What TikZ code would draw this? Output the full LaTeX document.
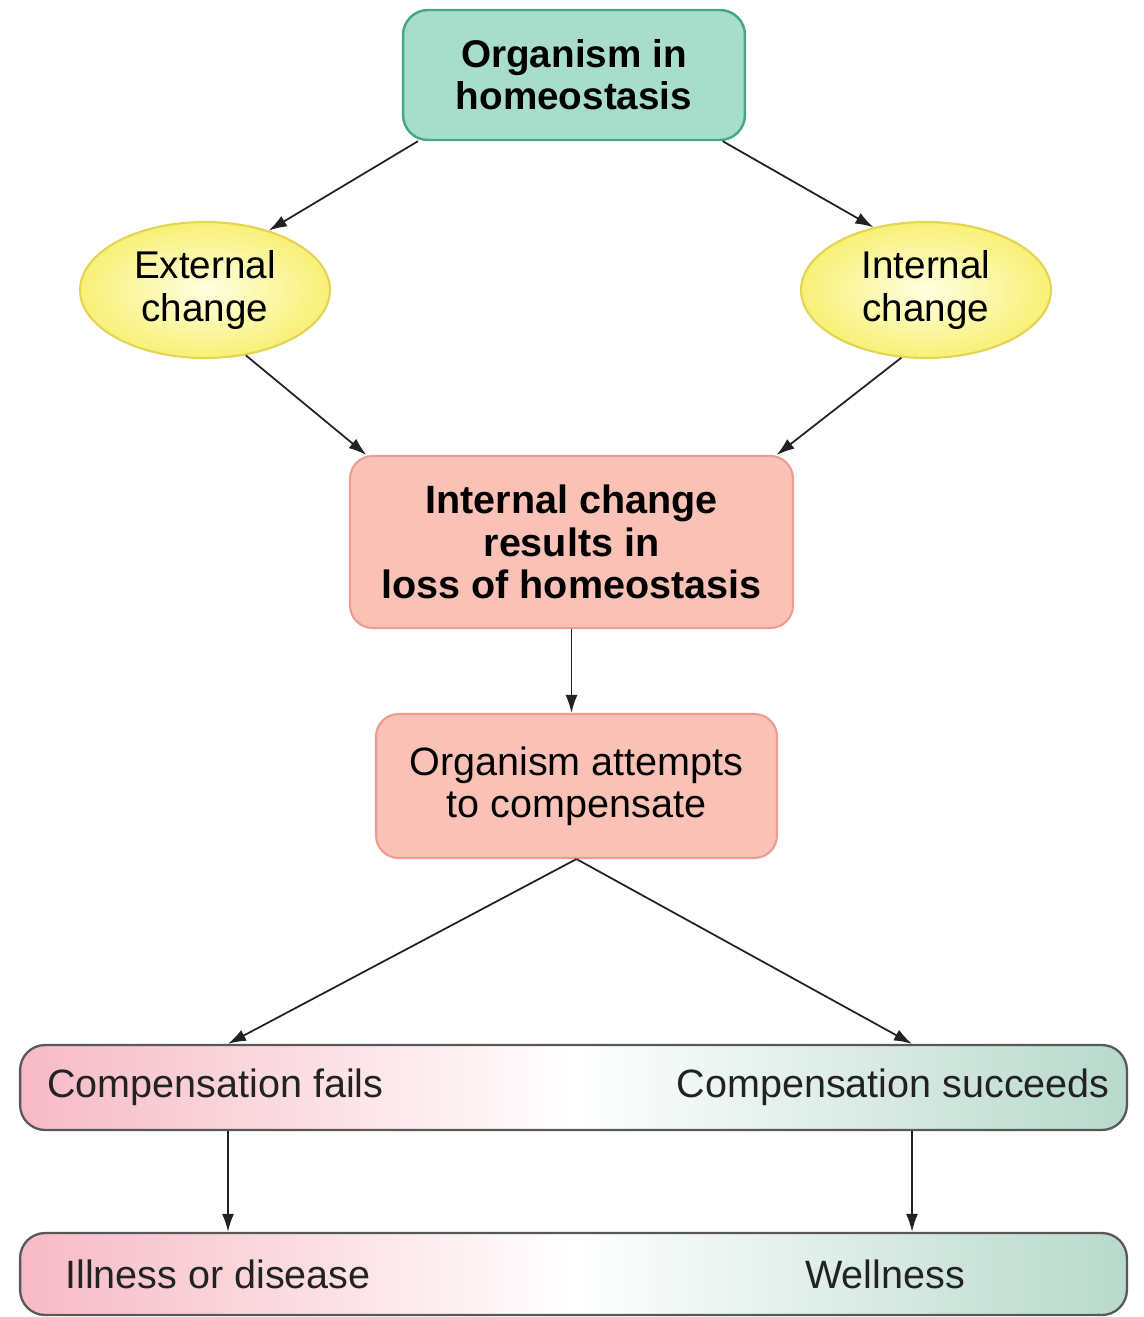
\documentclass[tikz,border=0pt]{standalone}
\usepackage{fontspec}
\setmainfont{Liberation Sans}
\usetikzlibrary{arrows.meta, positioning, shapes.geometric}
\definecolor{tealfill}{RGB}{168,221,204}
\definecolor{tealedge}{RGB}{72,166,136}
\definecolor{pinkfill}{RGB}{250,194,182}
\definecolor{pinkedge}{RGB}{238,156,144}
\definecolor{yellowfill}{RGB}{248,240,118}
\definecolor{yellowedge}{RGB}{228,212,84}
\definecolor{barpink}{RGB}{246,186,197}
\definecolor{bargreen}{RGB}{184,217,204}
\definecolor{baredge}{RGB}{88,88,88}
\definecolor{inkgray}{RGB}{34,34,34}

\tikzset{
  topbox/.style={draw=tealedge, fill=tealfill, line width=1.4pt, rounded corners=0.5cm,
    minimum width=6.84cm, minimum height=2.6cm, align=center, font=\fontsize{22}{24}\selectfont\bfseries},
  pinkbox/.style={draw=pinkedge, fill=pinkfill, line width=1.2pt, rounded corners=0.45cm,
    align=center, font=\fontsize{22.5}{24}\selectfont},
  changeell/.style={ellipse, draw=yellowedge, line width=1.2pt, inner color=yellow!12!white,
    outer color=yellowfill, minimum width=5cm, minimum height=2.72cm, inner sep=0pt,
    align=center, font=\fontsize{22}{24}\selectfont},
  bar/.style={draw=baredge, line width=1.3pt, rounded corners=0.5cm,
    left color=barpink, right color=bargreen, middle color=white, minimum width=22.14cm},
  lbl/.style={inner sep=0pt, text=inkgray, font=\fontsize{22.5}{24}\selectfont},
  arrow/.style={-{Latex[length=0.36cm, width=0.24cm]}, line width=1pt, draw=inkgray}
}

\begin{document}
\begin{tikzpicture}[x=0.02cm, y=-0.02cm]
  \useasboundingbox (0,0) rectangle (1143,1317);

  % Top and the two kinds of change
  \node[topbox] (top) at (574,75) {Organism in\\homeostasis};
  \node[changeell] (ext) at (205,290) {External\\change};
  \node[changeell] (int) at (926,290) {Internal\\change};

  % Middle boxes
  \node[pinkbox, minimum width=8.86cm, minimum height=3.44cm, font=\fontsize{22.5}{24}\selectfont\bfseries]
    (loss) at (571.5,542) {Internal change\\results in\\loss of homeostasis};
  \node[pinkbox, minimum width=8.02cm, minimum height=2.88cm]
    (comp) at (576.5,786) {Organism attempts\\to compensate};

  % Outcome bars
  \node[bar, minimum height=1.7cm] (bar1) at (573.5,1087.5) {};
  \node[bar, minimum height=1.64cm] (bar2) at (573.5,1274) {};
  \node[lbl, anchor=west] (fails) at (47,1087) {Compensation fails};
  \node[lbl, anchor=east] (succ) at (1110,1087) {Compensation succeeds};
  \node[lbl, anchor=west] (ill) at (65,1274) {Illness or disease};
  \node[lbl, anchor=west] (well) at (805,1274) {Wellness};

  % Drop lines of the two branches
  \coordinate (lhs) at (228,0);
  \coordinate (rhs) at (912,0);

  % Connectors
  \draw[arrow] (top.203) -- (ext.43);
  \draw[arrow] (top.-24) -- (int.130);
  \draw[arrow] (ext.-58) -- (loss.157);
  \draw[arrow] (int.250) -- (loss.23);
  \draw[arrow] (loss.south) -- (loss.south |- comp.north);
  \draw[arrow] (comp.south) -- (bar1.north -| lhs);
  \draw[arrow] (comp.south) -- (bar1.north -| rhs);
  \draw[arrow] (bar1.south -| lhs) -- (bar2.north -| lhs);
  \draw[arrow] (bar1.south -| rhs) -- (bar2.north -| rhs);
\end{tikzpicture}
\end{document}
